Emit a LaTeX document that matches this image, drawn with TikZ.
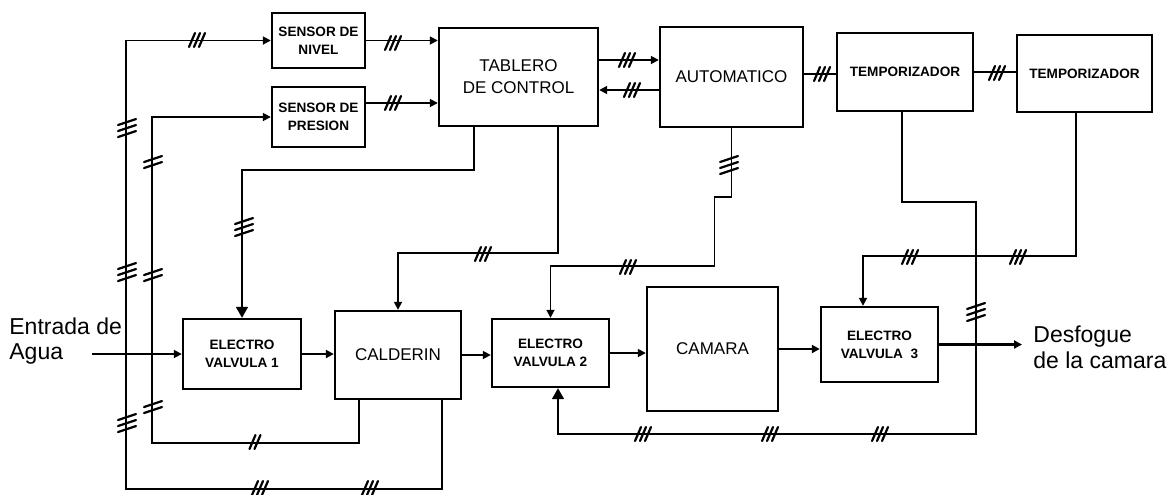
\documentclass[tikz,border=0pt]{standalone}
\usepackage{fontspec}
\setmainfont{Liberation Sans}
\usetikzlibrary{arrows.meta,calc}
\begin{document}
\begin{tikzpicture}[x=0.5pt,y=-0.5pt,
  box/.style={draw, line width=1.2pt, inner sep=0pt, align=center},
  sbold/.style={font=\fontsize{6.8}{9}\selectfont\bfseries},
  sreg/.style={font=\fontsize{8.5}{11}\selectfont},
  big/.style={font=\fontsize{11.5}{12.8}\selectfont, inner sep=0pt},
  conn/.style={line width=0.85pt},
  arr/.style={conn, -{Triangle[length=4pt,width=4pt]}},
  bigarr/.style={conn, -{Triangle[length=5.5pt,width=6pt]}},
  thickarr/.style={line width=1.3pt, -{Triangle[length=4pt,width=4pt]}},
  tick/.style={line width=1.1pt, line cap=round},
  pics/th/.style={code={\foreach \k in {1,...,#1}{\draw[tick] ({(\k-(#1+1)/2)*5-3},7) -- ({(\k-(#1+1)/2)*5+3},-7);}}},
  pics/tv/.style={code={\foreach \k in {1,...,#1}{\draw[tick] (-9,{(\k-(#1+1)/2)*6+3}) -- (9,{(\k-(#1+1)/2)*6-3});}}}
]
\useasboundingbox (0,0) rectangle (1176,494);

% boxes
\node[box, sbold, minimum width=46.5pt, minimum height=27.5pt] (nivel) at (318.5,40.5) {SENSOR DE\\NIVEL};
\node[box, sbold, minimum width=46.5pt, minimum height=30pt] (presion) at (318.5,117) {SENSOR DE\\PRESION};
\node[box, sreg, minimum width=79.5pt, minimum height=49pt] (tablero) at (518.5,77) {TABLERO\\DE CONTROL};
\node[box, sreg, minimum width=71.5pt, minimum height=50pt] (auto) at (731.5,77) {AUTOMATICO};
\node[box, sbold, minimum width=68pt, minimum height=39pt] (temp1) at (905,72) {TEMPORIZADOR};
\node[box, sbold, minimum width=67.5pt, minimum height=38.5pt] (temp2) at (1084.5,73.5) {TEMPORIZADOR};
\node[box, sbold, minimum width=59pt, minimum height=35pt] (ev1) at (242,354) {ELECTRO\\VALVULA 1};
\node[box, sreg, minimum width=63pt, minimum height=44pt] (cald) at (398,355) {CALDERIN};
\node[box, sbold, minimum width=58.5pt, minimum height=34pt] (ev2) at (550.5,353) {ELECTRO\\VALVULA 2};
\node[box, sreg, minimum width=65.5pt, minimum height=62pt] (camara) at (712.5,349) {CAMARA};
\node[box, sbold, minimum width=58.5pt, minimum height=37.5pt] (ev3) at (879.5,344.5) {ELECTRO\\VALVULA\ \ 3};

% texts
\node[big, anchor=west, align=left] (entrada) at (9,341) {Entrada de\\Agua};
\node[big, anchor=west, align=left] (desf) at (1033,347.5) {Desfogue\\de la camara};

\coordinate (in) at (92,354);
\coordinate (out) at (1022,347);
\coordinate (b1) at (976,202);
\coordinate (b2) at (976,434);

% buses from calderin to sensors
\draw[arr] ([xshift=22pt]cald.south) -- ++(0,89) -| ([xshift=-72.5pt]nivel.west) -- (nivel.west);
\draw[arr] ([xshift=-19.5pt]cald.south) -- ++(0,43) -| ([xshift=-59.5pt]presion.west) -- (presion.west);

% sensors to tablero
\draw[arr] (nivel.east) -- (nivel.east -| tablero.west);
\draw[arr] ([yshift=7pt]presion.east) -- ([yshift=7pt]presion.east -| tablero.west);

% tablero <-> automatico
\draw[arr] ([yshift=8.5pt]tablero.east) -- ([yshift=8.5pt]tablero.east -| auto.west);
\draw[arr] ([yshift=-6.5pt]auto.west) -- ([yshift=-6.5pt]auto.west -| tablero.east);

% automatico -> temporizadores
\draw[conn] ([yshift=1.5pt]auto.east) -- ([yshift=1.5pt]auto.east -| temp1.west);
\draw[conn] (temp1.east) -- (temp1.east -| temp2.west);

% tablero -> electrovalvula 1, calderin
\draw[bigarr] ([xshift=-22.25pt]tablero.south) |- ([yshift=74pt]ev1.north) -- (ev1.north);
\draw[arr] ([xshift=19.75pt]tablero.south) |- ([yshift=28.5pt]cald.north) -- (cald.north);

% automatico -> electrovalvula 2
\draw[arr] (auto.south) -- ++(0,69) -- ++(-17,0) |- ([yshift=26pt]ev2.north) -- (ev2.north);

% temporizador 1 -> electrovalvula 2 (bottom)
\draw[bigarr] ([xshift=-1.5pt]temp1.south) |- (b1) -- (b2) -| ([xshift=3.75pt]ev2.south);

% temporizador 2 -> electrovalvula 3
\draw[arr] ([xshift=-4.25pt]temp2.south) |- ([xshift=-8.25pt,yshift=25pt]ev3.north) -- ([xshift=-8.25pt]ev3.north);

% main flow
\draw[arr] (in) -- (in -| ev1.west);
\draw[thickarr] (ev1.east) -- (ev1.east -| cald.west);
\draw[arr] (cald.east) -- (cald.east -| ev2.west);
\draw[arr] (ev2.east) -- (ev2.east -| camara.west);
\draw[thickarr] (camara.east) -- (camara.east -| ev3.west);
\draw[thickarr] (ev3.east) -- (ev3.east -| out);

% wire count marks
\pic at (197,40) {th=3};
\pic at (127,128) {tv=3};
\pic at (127,272) {tv=3};
\pic at (127,423) {tv=3};
\pic at (153,162) {tv=2};
\pic at (153,275) {tv=2};
\pic at (153,407) {tv=2};
\pic at (255,442) {th=2};
\pic at (260,488) {th=3};
\pic at (370,488) {th=3};
\pic at (393,43) {th=3};
\pic at (393,103) {th=3};
\pic at (627,60) {th=3};
\pic at (632,90) {th=3};
\pic at (822,74) {th=3};
\pic at (997,73) {th=3};
\pic at (244,227) {tv=3};
\pic at (483,254) {th=3};
\pic at (729,165) {tv=3};
\pic at (628,267) {th=3};
\pic at (976,312) {tv=3};
\pic at (643,434) {th=3};
\pic at (770,434) {th=3};
\pic at (880,434) {th=3};
\pic at (910,257) {th=3};
\pic at (1018,257) {th=3};
\end{tikzpicture}
\end{document}
